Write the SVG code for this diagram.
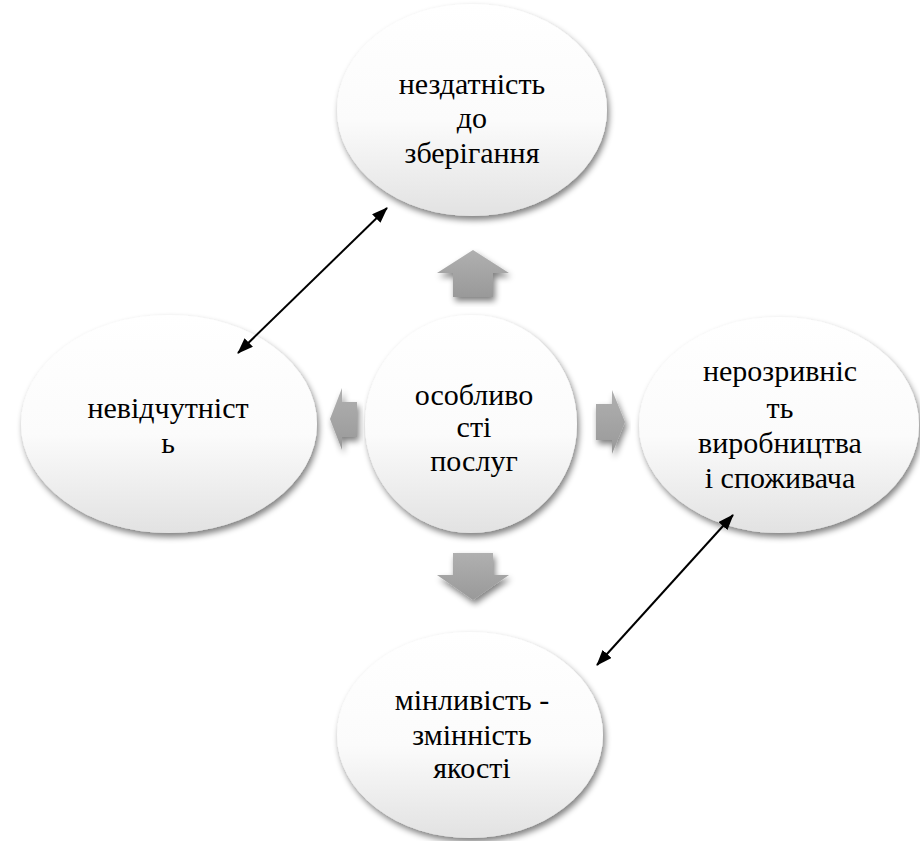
<svg xmlns="http://www.w3.org/2000/svg" width="920" height="841" viewBox="0 0 920 841">
<defs>
<linearGradient id="eg" x1="0" y1="0" x2="0" y2="1">
<stop offset="0" stop-color="#ffffff"/>
<stop offset="0.55" stop-color="#fbfbfb"/>
<stop offset="1" stop-color="#e2e2e2"/>
</linearGradient>
<linearGradient id="ag" x1="0" y1="0" x2="0" y2="1">
<stop offset="0" stop-color="#b0b0b0"/>
<stop offset="1" stop-color="#999999"/>
</linearGradient>
<filter id="sh" x="-20%" y="-20%" width="140%" height="140%">
<feGaussianBlur in="SourceAlpha" stdDeviation="3"/>
<feOffset dx="2" dy="4" result="b"/>
<feComponentTransfer><feFuncA type="linear" slope="0.5"/></feComponentTransfer>
<feMerge><feMergeNode/><feMergeNode in="SourceGraphic"/></feMerge>
</filter>
<marker id="ah" viewBox="0 0 16 12" refX="15" refY="6" markerWidth="16" markerHeight="12" markerUnits="userSpaceOnUse" orient="auto-start-reverse">
<path d="M0,0 L16,6 L0,12 z" fill="#000"/>
</marker>
<style>
.node ellipse{fill:url(#eg);filter:url(#sh);}
.blk{fill:url(#ag);filter:url(#sh);}
text{font-family:"Liberation Serif","Times New Roman",serif;font-size:30px;fill:#000;text-anchor:middle;}
.con line{stroke:#000;stroke-width:2;marker-start:url(#ah);marker-end:url(#ah);}
</style>
</defs>
<rect width="920" height="841" fill="#fff"/>
<g id="block-arrows">
<polygon class="blk" points="473,250 509,273 493,273 493,297 453,297 453,273 437,273"/>
<polygon class="blk" points="453,553 493,553 493,575 509,575 473,600 437,575 453,575"/>
<polygon class="blk" points="330,419 342,388 342,402 357,402 357,437 342,437 342,450"/>
<polygon class="blk" points="625,422 612,390 612,404 596,404 596,440 612,440 612,454"/>
</g>
<g id="node-top" class="node">
<ellipse cx="472" cy="110" rx="135" ry="106"/>
<text x="472" y="94">нездатність</text>
<text x="472" y="128">до</text>
<text x="472" y="163">зберігання</text>
</g>
<g id="node-left" class="node">
<ellipse cx="169" cy="424" rx="148" ry="109"/>
<text x="168" y="418">невідчутніст</text>
<text x="168" y="453">ь</text>
</g>
<g id="node-center" class="node">
<ellipse cx="471" cy="424" rx="106" ry="109"/>
<text x="474" y="405">особливо</text>
<text x="474" y="437">сті</text>
<text x="474" y="471">послуг</text>
</g>
<g id="node-right" class="node">
<ellipse cx="779" cy="425" rx="140" ry="108"/>
<text x="780" y="381">нерозривніс</text>
<text x="780" y="418">ть</text>
<text x="780" y="453">виробництва</text>
<text x="780" y="488">і споживача</text>
</g>
<g id="node-bottom" class="node">
<ellipse cx="470" cy="735" rx="133" ry="103"/>
<text x="472" y="710">мінливість -</text>
<text x="472" y="745">змінність</text>
<text x="472" y="778">якості</text>
</g>
<g id="connectors" class="con">
<line x1="238" y1="353" x2="387" y2="208"/>
<line x1="597" y1="665" x2="733" y2="515"/>
</g>
</svg>
